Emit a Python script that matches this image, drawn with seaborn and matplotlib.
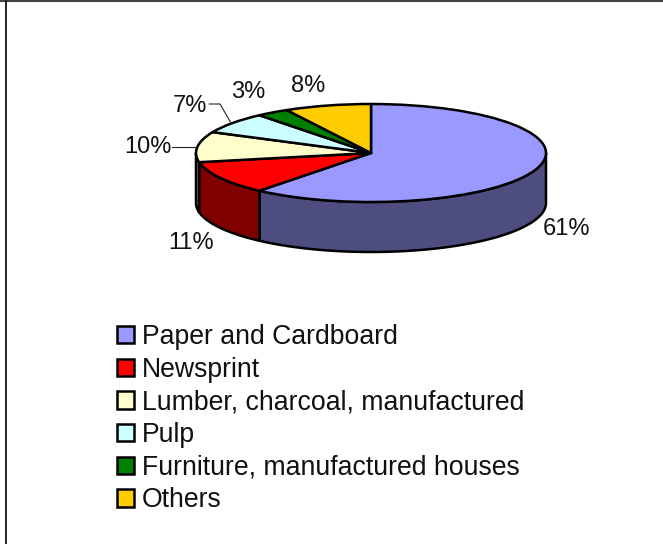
import numpy as np
import matplotlib
matplotlib.use("Agg")
import matplotlib.pyplot as plt
from matplotlib.colors import to_rgb
from matplotlib.lines import Line2D
from matplotlib.patches import Patch
from matplotlib.transforms import Affine2D
import seaborn as sns

categories = ["Paper and Cardboard", "Newsprint", "Lumber, charcoal, manufactured",
              "Pulp", "Furniture, manufactured houses", "Others"]
shares = [61, 11, 10, 7, 3, 8]

top_colors = ["#9999FF", "#FF0000", "#FFFFCC", "#CCFFFF", "#007F00", "#FFCC00"]

sns.set_theme(style="white")
plt.rcParams["font.family"] = ["Liberation Sans", "DejaVu Sans"]

W, H = 663, 544
CX, CY, RX, RY, DEPTH = 371, 153, 175, 49, 50
EDGE = 1.8

fig = plt.figure(figsize=(W / 100, H / 100), dpi=100, facecolor="white")
ax = fig.add_axes([0, 0, 1, 1])

# Pixel space with the origin at the upper left, for labels and the frame
px = Affine2D().scale(1, -1).translate(0, H)

# Top face of the disc: a unit pie squashed by the free axes aspect
ax.pie(shares, colors=top_colors, startangle=90, counterclock=False, radius=1,
       wedgeprops=dict(edgecolor="black", linewidth=EDGE, joinstyle="round", zorder=3))
ax.set_aspect("auto")
ax.set_xlim(-CX / RX, (W - CX) / RX)
ax.set_ylim((CY - H) / RY, CY / RY)

# Side wall: the front part of each wedge, in a darker shade of its colour
depth = DEPTH / RY
edges = np.cumsum([0] + shares) / sum(shares) * 2 * np.pi
for start, stop, color in zip(edges[:-1], edges[1:], top_colors):
    lo, hi = max(start, np.pi / 2), min(stop, 3 * np.pi / 2)
    if lo >= hi:
        continue
    t = np.linspace(lo, hi, 80)
    x, y = np.sin(t), np.cos(t)
    wall = tuple(0.5 * c for c in to_rgb(color))
    ax.fill(np.r_[x, x[::-1]], np.r_[y, y[::-1] - depth], facecolor=wall,
            edgecolor="black", linewidth=EDGE, joinstyle="round", zorder=2)

# Percentage labels
label_xy = [(566, 229), (191, 243), (148, 147), (190, 106), (248, 92), (308, 86)]
for share, (lx, ly) in zip(shares, label_xy):
    ax.text(lx, ly, f"{share}%", transform=px, ha="center", va="center",
            fontsize=17, color="#111111", zorder=5)

# Leader lines for the two crowded labels
for xs, ys in [((172, 196), (147, 147)), ((209, 220, 231), (104, 104, 123))]:
    ax.add_line(Line2D(xs, ys, transform=px, color="#222222", linewidth=0.8, zorder=4))

# Legend below the disc
handles = [Patch(facecolor=c, edgecolor="black", linewidth=EDGE) for c in top_colors]
ax.legend(handles, categories, loc="upper left", bbox_to_anchor=(117, 324),
          bbox_transform=px, frameon=False, fontsize=19.2, borderpad=0, borderaxespad=0,
          handlelength=0.64, handleheight=0.62, handletextpad=0.3, labelspacing=0.25,
          labelcolor="#111111")

# Frame along the top and left edges of the chart area
fig.add_artist(Line2D([0, W], [1, 1], transform=px, color="#444444", linewidth=1.5))
fig.add_artist(Line2D([6, 6], [1, H], transform=px, color="black", linewidth=1.2))

fig.savefig("out.png", dpi=100, facecolor="white")
